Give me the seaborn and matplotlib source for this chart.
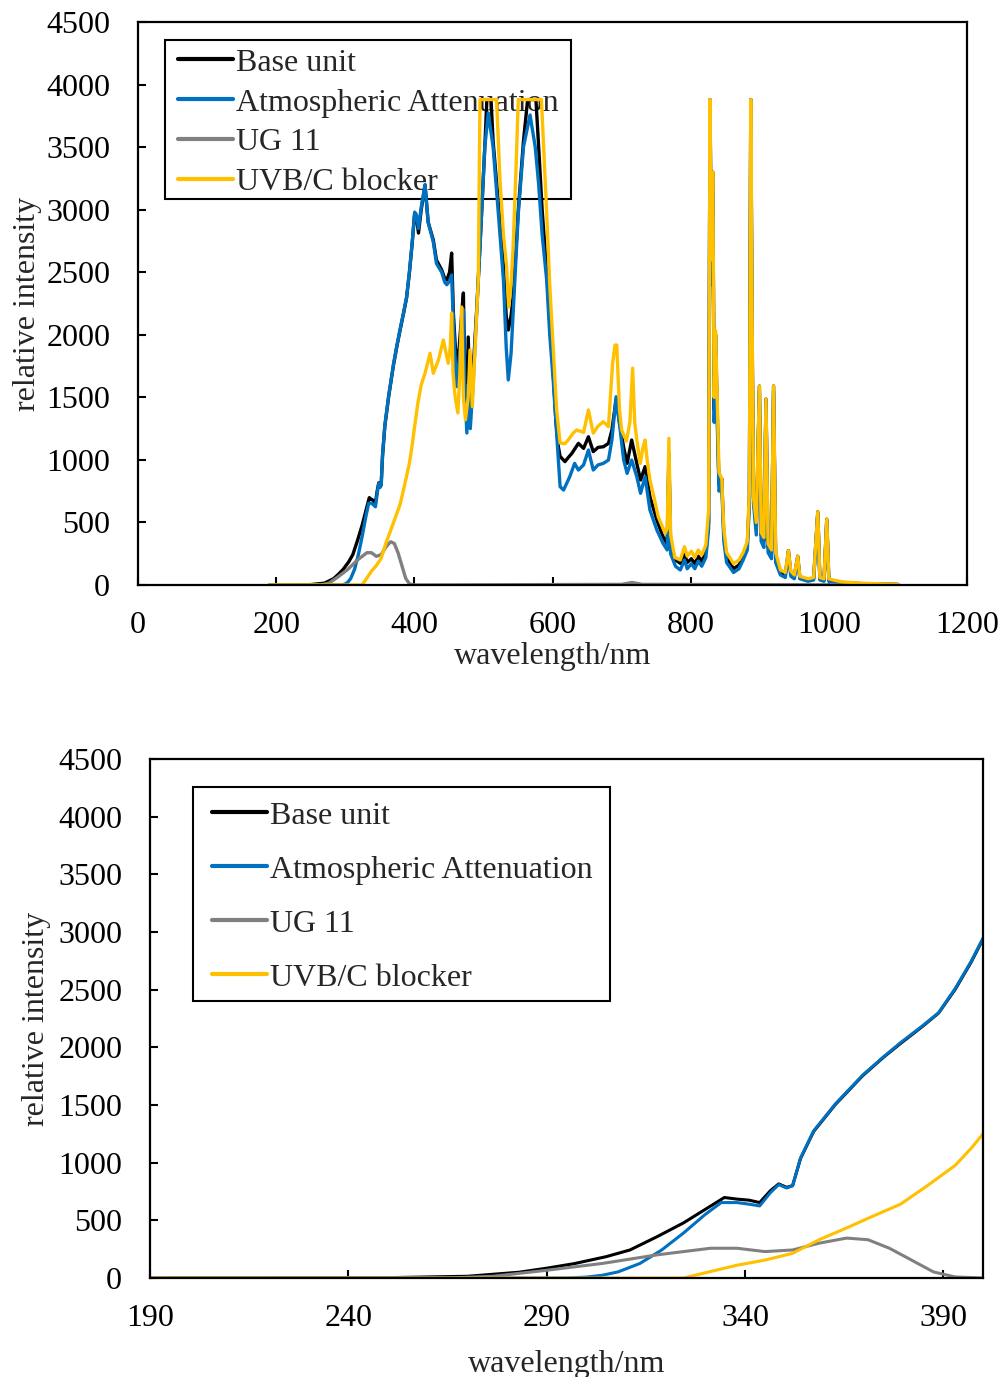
import numpy as np
import pandas as pd
import matplotlib
matplotlib.use("Agg")
import matplotlib.pyplot as plt
from matplotlib.patches import Rectangle
import seaborn as sns

# ---------------- data ----------------
series_names = ["Base unit", "Atmospheric Attenuation", "UG 11", "UVB/C blocker"]
series_colors = ["#000000", "#0070C0", "#808080", "#FFC000"]

base_wl = [190, 250, 270, 283, 290, 297, 305, 311, 318, 324.5, 330, 334.8, 338, 341, 343.7,
           346.4, 348.5, 350.5, 352, 354, 357.3, 362.8, 369.7, 375, 379.2, 384.7, 388.8, 393,
           397, 400.5, 403, 406, 410, 415.5, 420, 427.5, 432, 439.6, 444, 447, 451, 454, 456.5,
           461, 465, 469, 471, 473, 476, 478, 481, 485, 490, 495, 502, 505, 511, 514, 521.6,
           529, 533, 536, 540, 543, 550.5, 558, 564, 576, 580, 585, 591.6, 596, 601, 605,
           608.5, 611, 618, 623, 628, 637.5, 645, 652, 659, 666, 673.6, 681, 686, 692, 698,
           703, 708, 714.6, 722, 727.5, 734, 741, 751, 760, 766, 768.5, 771, 778, 785, 791,
           795, 801, 806, 811, 816, 822, 826, 828, 830, 832, 834, 836, 838, 841, 845, 848,
           852, 862, 870, 876, 882, 885, 887, 889, 891, 895, 899.5, 902, 906, 909, 912, 917,
           920, 923, 930, 937, 941.5, 945, 950, 955, 958, 970, 978, 984, 987, 993, 997, 1000,
           1010, 1020, 1050, 1100]
base_val = [0, 3, 15, 50, 85, 125, 185, 243, 361, 478, 596, 698, 684, 675, 654,
            757, 816, 786, 801, 1036, 1270, 1505, 1755, 1916, 2033, 2180, 2297, 2503,
            2738, 2972, 2944, 2813, 3000, 3197, 2900, 2757, 2598, 2518, 2450, 2438, 2500, 2653, 2174,
            1745, 1900, 2200, 2334, 1700, 1375, 1982, 1375, 1700, 2174, 2704, 3501, 3880, 3880, 3550, 3050,
            2550, 2150, 2038, 2150, 2300, 3000, 3550, 3880, 3880, 3500, 3000, 2500, 2100, 1700, 1300,
            1105, 1028, 986, 1020, 1052, 1132, 1092, 1185, 1066, 1100, 1105, 1132, 1239, 1479, 1266,
            1100, 972, 1159, 972, 839, 946, 706, 520, 386, 330, 1050, 320, 200, 173, 250,
            180, 210, 170, 230, 190, 260, 500, 3880, 2500, 3300, 1400, 2000, 1500, 800, 850, 400,
            220, 130, 160, 230, 320, 700, 3880, 2000, 700, 450, 1590, 400, 350, 1486, 300, 250,
            1590, 220, 100, 80, 275, 90, 70, 230, 60, 40, 50, 585, 50, 40, 526, 40,
            30, 20, 10, 5]

atm_wl = [190, 295, 300, 303.9, 308, 313.5, 319, 324.5, 330, 334, 338, 341, 343.7, 346.4,
          348.5, 350.5, 352, 354, 357.3, 362.8, 369.7, 375, 379.2, 384.7, 388.8, 393, 397,
          400.5, 403, 406, 410, 415.5, 420, 427.5, 432, 439.6, 444, 447, 451, 454, 456.5,
          461, 465, 469, 471, 473, 476, 478, 481, 485, 490, 495, 502, 507, 514, 521.6, 529,
          533, 536, 540, 543, 550.5, 558, 567.5, 575, 580, 585, 591.6, 596, 601, 605, 608.5,
          611, 616, 625, 632, 637.5, 645, 652, 659, 666, 673.6, 681, 686, 692, 698, 703, 708,
          714.6, 722, 727.5, 734, 741, 751, 760, 766, 768.5, 771, 778, 785, 791, 795, 801,
          806, 811, 816, 822, 826, 828, 830, 832, 834, 836, 838, 841, 845, 848, 852, 862,
          870, 876, 882, 885, 887, 889, 891, 895, 899.5, 902, 906, 909, 912, 917, 920, 923,
          930, 937, 941.5, 945, 950, 955, 958, 970, 978, 984, 987, 993, 997, 1000, 1010,
          1020, 1050, 1100]
atm_val = [0, 0, 8, 23, 53, 126, 243, 390, 552, 654, 654, 640, 625, 740,
           810, 780, 800, 1040, 1275, 1510, 1760, 1920, 2040, 2185, 2300, 2510, 2745,
           2980, 2960, 2850, 3020, 3200, 2900, 2740, 2570, 2500, 2420, 2400, 2430, 2478, 2100,
           1585, 1800, 2100, 2200, 1600, 1215, 1600, 1250, 1600, 2150, 2700, 3500, 3773, 3501, 2970, 2438,
           1900, 1639, 1850, 2174, 2970, 3501, 3757, 3501, 3200, 2800, 2438, 2000, 1639, 1300, 1000,
           786, 759, 866, 972, 919, 960, 1079, 919, 960, 972, 999, 1159, 1505, 1239, 1000, 892,
           999, 866, 733, 866, 600, 440, 333, 280, 1000, 250, 150, 120, 200, 130, 170,
           130, 190, 150, 220, 450, 3880, 2400, 3250, 1300, 1900, 1400, 750, 800, 350, 180, 100,
           130, 200, 280, 650, 3880, 1900, 650, 400, 1550, 350, 300, 1450, 260, 210, 1550, 180,
           80, 60, 250, 70, 50, 210, 50, 30, 40, 570, 40, 30, 510, 30, 20,
           15, 8, 3]

ug_wl = [190, 265, 276.5, 290, 304, 317.7, 331.3, 338, 345, 352, 358.7, 365.6, 371, 376.4,
         382, 387.5, 393, 400, 700, 715, 730, 1100]
ug_val = [0, 0, 15, 67, 126, 200, 258, 258, 229, 243, 302, 346, 332, 258,
          155, 53, 9, 0, 5, 20, 5, 0]

uvb_wl = [190, 324.5, 332.7, 338, 345, 352, 358.7, 365.6, 372.3, 379.2, 386, 393, 397, 400.5,
          405, 410, 415.5, 422.7, 427.5, 435, 442, 449, 452, 454, 456, 459, 463, 466, 468.5,
          471, 474, 478, 480.6, 484, 488, 492.6, 495, 519, 524, 529, 533.6, 536.5, 540, 543,
          547, 550.5, 584, 591.6, 596, 601, 606, 611, 618, 623, 630, 635, 645, 652, 659, 666,
          673.6, 681, 687, 690.5, 693, 697, 700, 707, 712, 716, 719, 722, 727, 731, 734, 737,
          741, 747, 753, 763, 766, 768.5, 771, 777, 785, 791, 795, 801, 806, 811, 816, 822,
          826, 828, 830, 832, 834, 836, 838, 841, 845, 848, 852, 862, 870, 876, 882, 885, 887,
          889, 891, 895, 899.5, 902, 906, 909, 912, 917, 920, 923, 930, 937, 941.5, 945, 950,
          955, 958, 970, 978, 984, 987, 993, 997, 1000, 1010, 1020, 1045, 1100]
uvb_val = [0, 0, 67, 111, 155, 214, 332, 434, 537, 640, 801, 977, 1124, 1270,
           1450, 1600, 1692, 1852, 1692, 1800, 1959, 1772, 1900, 2174, 1700, 1505, 1375, 1700, 2222,
           1500, 1320, 1500, 1878, 1425, 1900, 2438, 3880, 3880, 3237, 2800, 2545, 2222, 2400, 2704,
           3300, 3880, 3880, 2970, 2400, 1905, 1400, 1135, 1130, 1161, 1215, 1239, 1220, 1399, 1214, 1270,
           1305, 1266, 1772, 1918, 1918, 1400, 1239, 1150, 1300, 1733, 1300, 1159, 972, 1100, 1159, 1000,
           839, 700, 546, 413, 450, 1172, 400, 220, 200, 306, 230, 270, 220, 280, 240, 320,
           600, 3880, 2600, 3300, 1500, 2033, 1600, 900, 851, 450, 260, 171, 200, 260, 350, 750, 3880,
           2100, 700, 500, 1590, 420, 380, 1486, 330, 280, 1590, 260, 120, 100, 275, 110, 80,
           230, 70, 50, 60, 585, 60, 50, 526, 50, 35, 25, 15, 5]

x_ticks_full = [0, 200, 400, 600, 800, 1000, 1200]
x_ticks_uv = [190, 240, 290, 340, 390]
y_ticks = [0, 500, 1000, 1500, 2000, 2500, 3000, 3500, 4000, 4500]

# ---------------- build long table ----------------
frames = []
for name, wl, val in zip(series_names,
                         [base_wl, atm_wl, ug_wl, uvb_wl],
                         [base_val, atm_val, ug_val, uvb_val]):
    frames.append(pd.DataFrame({"wavelength": wl, "intensity": val, "series": name}))
df = pd.concat(frames, ignore_index=True)

# ---------------- style ----------------
sns.set_style("ticks")
plt.rcParams["font.family"] = ["Liberation Serif", "DejaVu Serif"]
FS = 23

fig = plt.figure(figsize=(10.07, 13.77), dpi=100)
W, H = 1007, 1377


def make_axes(l, r, t, b):
    return fig.add_axes([l / W, 1 - b / H, (r - l) / W, (b - t) / H]), (l, r, t, b)


ax1, box1 = make_axes(138, 967, 22, 585)
ax2, box2 = make_axes(150, 983, 759, 1278)


def draw(ax, box, xlim, xticks, lw, frame_px, handle_left, row_top, labelspacing,
         xlabelpad, ylabelpad):
    l, r, t, b = box
    aw, ah = r - l, b - t
    sns.lineplot(data=df, x="wavelength", y="intensity", hue="series",
                 hue_order=series_names, palette=series_colors,
                 estimator=None, sort=False, linewidth=lw, ax=ax, legend=False)
    for ln in ax.lines:
        ln.set_zorder(3)
    ax.set_xlim(*xlim)
    ax.set_ylim(0, 4500)
    ax.set_xticks(xticks)
    ax.set_yticks(y_ticks)
    ax.set_xticklabels([str(v) for v in xticks], fontsize=FS)
    ax.set_yticklabels([str(v) for v in y_ticks], fontsize=FS)
    ax.tick_params(direction="in", length=6, width=1.5, colors="black")
    ax.tick_params(axis="x", pad=19)
    ax.tick_params(axis="y", pad=20)
    for s in ax.spines.values():
        s.set_visible(True)
        s.set_linewidth(1.6)
        s.set_color("black")
        s.set_zorder(4)
    ax.set_xlabel("wavelength/nm", fontsize=FS, labelpad=xlabelpad)
    ax.set_ylabel("relative intensity", fontsize=FS, labelpad=ylabelpad)
    # legend entries (frame drawn separately as a plain rectangle)
    leg = ax.legend(ax.lines[:4], series_names, loc="upper left",
                    bbox_to_anchor=((handle_left - l) / aw, (b - row_top) / ah),
                    borderaxespad=0, borderpad=0, fontsize=FS, frameon=False,
                    handlelength=1.72, handletextpad=0.1, labelspacing=labelspacing)
    leg.set_zorder(2)
    for h in leg.get_lines():
        h.set_linewidth(3)
    fx0, fx1, fy0, fy1 = frame_px
    ax.add_patch(Rectangle(((fx0 - l) / aw, (b - fy1) / ah), (fx1 - fx0) / aw,
                           (fy1 - fy0) / ah, transform=ax.transAxes, fill=False,
                           edgecolor="black", linewidth=1.5, zorder=2, clip_on=False))


draw(ax1, box1, (0, 1200), x_ticks_full, 2.4, (165, 571, 40, 199), 178, 48.3, 0.33, 1, 3)
draw(ax2, box2, (190, 400), x_ticks_uv, 2.2, (193, 610, 787, 1001), 212, 801.3, 0.77, 12, 5)

fig.savefig("out.png", dpi=100)
